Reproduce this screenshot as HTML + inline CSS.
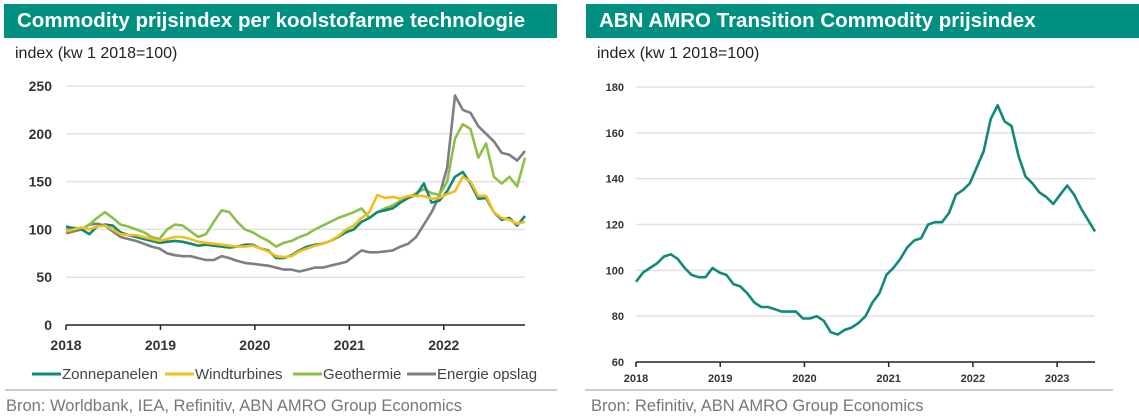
<!DOCTYPE html>
<html><head><meta charset="utf-8">
<style>
body{margin:0;background:#fff;width:1139px;height:419px;overflow:hidden;font-family:"Liberation Sans",Arial,sans-serif;}
.hdr{position:absolute;top:4px;height:34px;background:#00907f;color:#fff;font-weight:bold;font-size:20.5px;line-height:34px;padding-left:13px;box-sizing:border-box;white-space:nowrap;}
.sub{position:absolute;top:45px;font-size:16px;color:#222;}
.src{position:absolute;top:397px;font-size:16.5px;color:#777;white-space:nowrap;}
.rule{position:absolute;top:389px;height:2px;background:#ccc;}
svg{position:absolute;left:0;top:0;}
</style></head><body>
<div class="hdr" style="left:4px;width:553px;">Commodity prijsindex per koolstofarme technologie</div>
<div class="hdr" style="left:586px;width:553px;">ABN AMRO Transition Commodity prijsindex</div>
<div class="sub" style="left:15px;">index (kw 1 2018=100)</div>
<div class="sub" style="left:597px;">index (kw 1 2018=100)</div>
<div class="rule" style="left:5px;width:552px;"></div>
<div class="rule" style="left:585px;width:528px;"></div>
<div class="src" style="left:6px;">Bron: Worldbank, IEA, Refinitiv, ABN AMRO Group Economics</div>
<div class="src" style="left:591px;">Bron: Refinitiv, ABN AMRO Group Economics</div>
<svg id="chart" width="1139" height="419"></svg>
<script>
const leftYTicks=[0,50,100,150,200,250];
const leftXTicks=[2018,2019,2020,2021,2022];
const leftStart=2018, leftEnd=2022.86;
const seriesNames=["Zonnepanelen","Windturbines","Geothermie","Energie opslag"];
const zonnepanelen=[103,101,100,95,103,105,104,97,94,92,90,88,86,87,88,87,85,83,84,83,82,81,82,84,84,80,78,70,70,73,78,82,84,85,88,92,97,100,108,112,118,120,122,128,133,136,148,128,130,140,155,160,148,132,133,118,110,112,104,114];
const windturbines=[98,100,102,100,103,104,100,95,94,94,92,90,88,90,92,92,90,87,86,85,84,83,82,82,83,80,77,72,71,72,77,80,83,85,88,93,100,104,112,118,136,133,134,132,135,135,135,132,133,137,140,155,150,135,135,118,112,110,106,108];
const geothermie=[100,102,100,105,112,118,112,105,103,100,97,92,90,100,105,104,98,92,95,108,120,118,108,100,97,92,88,82,86,88,92,95,100,104,108,112,115,118,122,112,118,122,125,130,133,138,142,138,136,150,195,210,205,175,190,155,148,155,145,175];
const energieOpslag=[96,98,100,105,106,104,98,92,90,88,85,82,80,75,73,72,72,70,68,68,72,70,67,65,64,63,62,60,58,58,56,58,60,60,62,64,66,72,78,76,76,77,78,82,85,92,105,118,135,165,240,225,222,208,200,192,180,178,172,182];
const rightYTicks=[60,80,100,120,140,160,180];
const rightXTicks=[2018,2019,2020,2021,2022,2023];
const rightStart=2018, rightEnd=2023.45;
const transitionIndex=[95,99,101,103,106,107,105,101,98,97,97,101,99,98,94,93,90,86,84,84,83,82,82,82,79,79,80,78,73,72,74,75,77,80,86,90,98,101,105,110,113,114,120,121,121,125,133,135,138,145,152,166,172,165,163,150,141,138,134,132,129,133,137,133,127,122,117];

const NS="http://www.w3.org/2000/svg";
const svg=document.getElementById('chart');
function mk(tag,attrs,parent){const e=document.createElementNS(NS,tag);for(const k in attrs)e.setAttribute(k,attrs[k]);(parent||svg).appendChild(e);return e;}

function drawChart(cfg){
  const xs=v=>cfg.x0+(v-cfg.xmin)/(cfg.xmax-cfg.xmin)*(cfg.x1-cfg.x0);
  const ys=v=>cfg.y0-(v-cfg.ymin)/(cfg.ymax-cfg.ymin)*(cfg.y0-cfg.y1);
  const g=mk('g',{});
  
  
  cfg.yTicks.forEach(t=>{
    if(t!==cfg.ymin){const l=mk('line',{x1:cfg.x0,x2:cfg.x1,y1:ys(t),y2:ys(t),stroke:'#e2e2e2','stroke-width':1.5},g);
    }
    const tx=mk('text',{x:cfg.x0-cfg.ylabOff,y:ys(t)+cfg.fs*0.36,'text-anchor':'end','font-size':cfg.fs,'font-weight':'bold',fill:'#333'},g);
    tx.textContent=t;
    
  });
  const ax=mk('line',{x1:cfg.x0,x2:cfg.x1,y1:ys(cfg.ymin),y2:ys(cfg.ymin),stroke:'#222','stroke-width':1.5},g);
  
  cfg.xTicks.forEach(t=>{
    const l=mk('line',{x1:xs(t),x2:xs(t),y1:ys(cfg.ymin),y2:ys(cfg.ymin)+5,stroke:'#222','stroke-width':1.5},g);
    
    const tx=mk('text',{x:xs(t),y:ys(cfg.ymin)+cfg.xlabOff,'text-anchor':'middle','font-size':cfg.fs,'font-weight':'bold',fill:'#333'},g);
    tx.textContent=t;
    
  });
  cfg.series.forEach(s=>{
    const n=s.data.length;
    const pts=s.data.map((v,i)=>xs(cfg.xmin+i*(cfg.xmax-cfg.xmin)/(n-1)).toFixed(1)+','+ys(v).toFixed(1)).join(' ');
    const p=mk('polyline',{points:pts,fill:'none',stroke:s.color,'stroke-width':2.6,'stroke-linejoin':'round'},g);
    
  });
}
const colors=['#10897b','#f3bd1b','#8cc04b','#7d7f85'];
drawChart({name:'left-chart',x0:66,x1:525,y0:325,y1:86,xmin:leftStart,xmax:leftEnd,ymin:0,ymax:250,yTicks:leftYTicks,xTicks:leftXTicks,fs:14,ylabOff:14,xlabOff:25,
 series:[{name:'line-energie-opslag',data:energieOpslag,color:colors[3]},{name:'line-geothermie',data:geothermie,color:colors[2]},{name:'line-zonnepanelen',data:zonnepanelen,color:colors[0]},{name:'line-windturbines',data:windturbines,color:colors[1]}]});
drawChart({name:'right-chart',x0:636,x1:1095,y0:362,y1:87,xmin:rightStart,xmax:rightEnd,ymin:60,ymax:180,yTicks:rightYTicks,xTicks:rightXTicks,fs:11,ylabOff:12,xlabOff:20,
 series:[{name:'line-transition-index',data:transitionIndex,color:'#10897b'}]});

const lg=mk('g',{});


const lx=[32,165,293,407];
seriesNames.forEach((nm,i)=>{
  const l=mk('line',{x1:lx[i],x2:lx[i]+29,y1:374,y2:374,stroke:colors[i],'stroke-width':3},lg);
  
  const t=mk('text',{x:lx[i]+30,y:379,'font-size':15,fill:'#444'},lg);
  t.textContent=nm;
  
});
</script>
</body></html>
